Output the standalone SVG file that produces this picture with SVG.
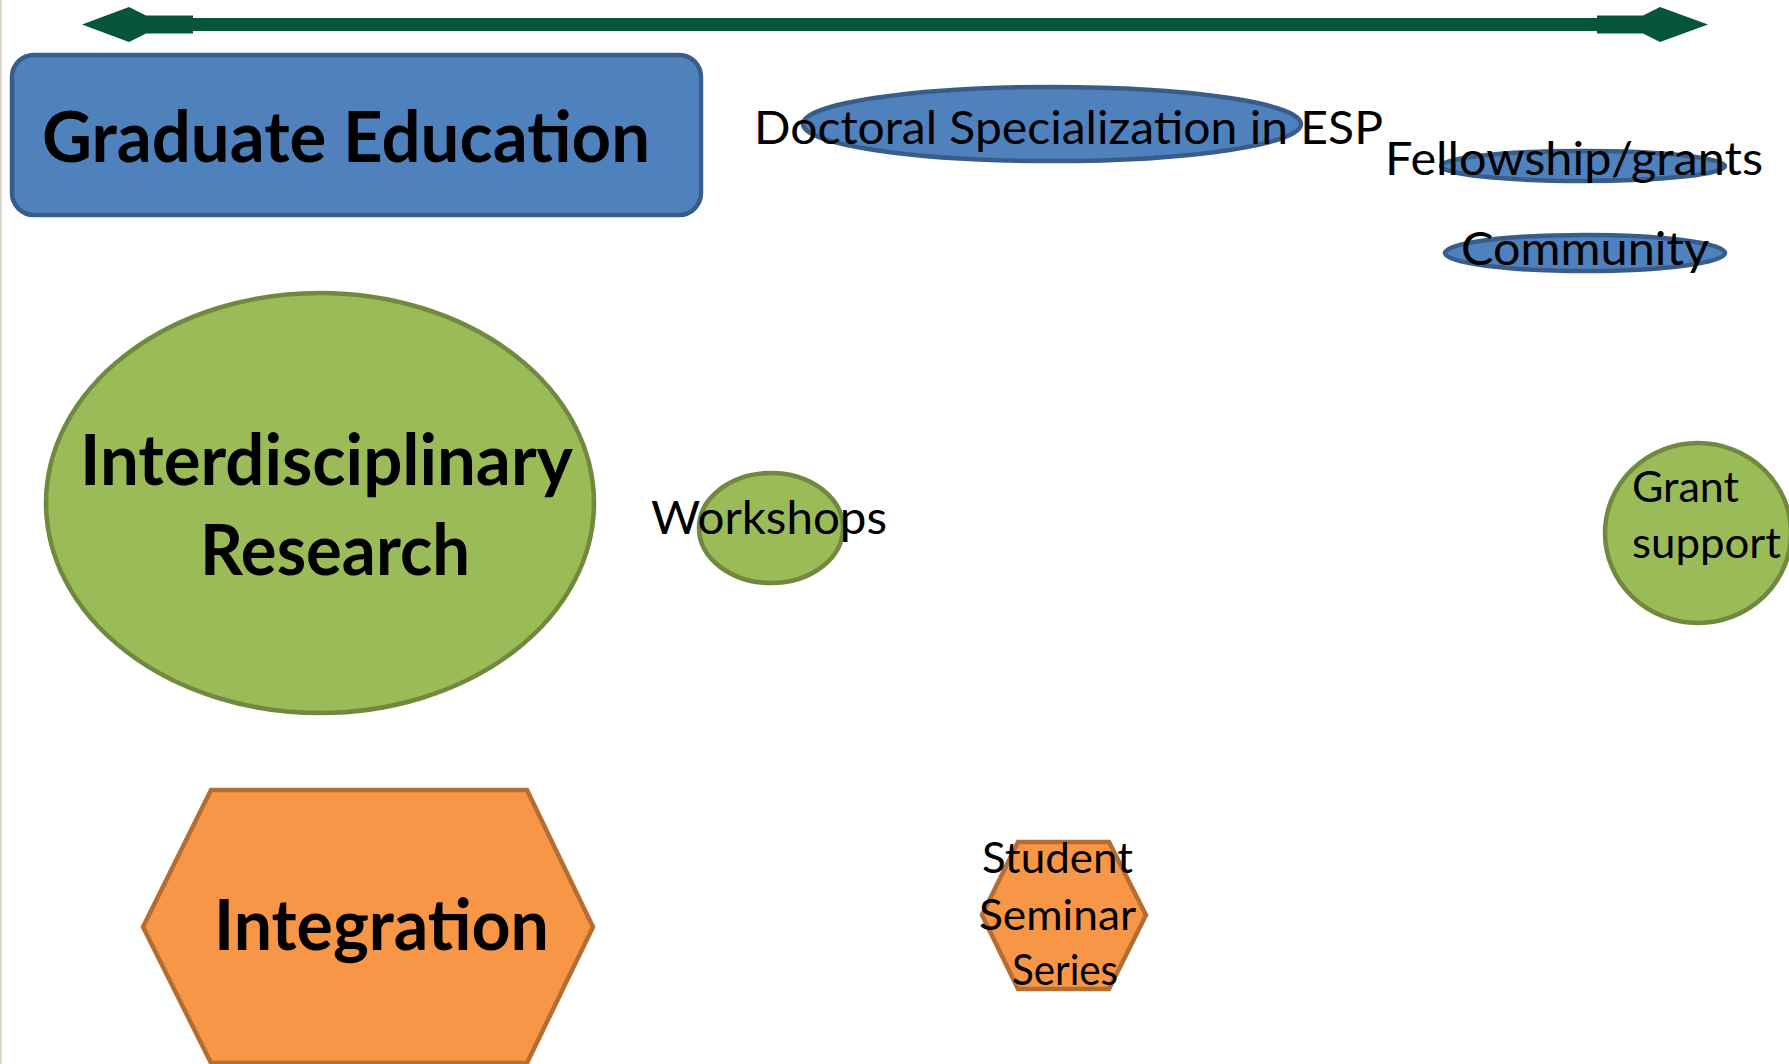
<svg xmlns="http://www.w3.org/2000/svg" width="1789" height="1064" viewBox="0 0 1789 1064">
<style>
.blue{fill:#4F81BD;stroke:#385D8A;stroke-width:4.5}
.green{fill:#9BBB59;stroke:#71893F;stroke-width:4.5}
.orange{fill:#F79646;stroke:#B66D31;stroke-width:4.5}
.big{font-family:Lato,"Open Sans","Liberation Sans",sans-serif;font-weight:bold;font-size:70px;fill:#000}
.small{font-family:Lato,"Open Sans","Liberation Sans",sans-serif;font-size:47px;fill:#000}
.tiny{font-family:Lato,"Open Sans","Liberation Sans",sans-serif;font-size:42px;fill:#000}
</style>
<rect x="0" y="0" width="1789" height="1064" fill="#fff"/>
<rect x="0" y="0" width="2" height="1064" fill="#E2D5C8"/>
<g id="connectors">
<path d="M82,24.5 L129,7 L146,15.5 L193,15.5 L193,18 L1597,18 L1597,15.5 L1643,15.5 L1660,7 L1708,24.5 L1660,42 L1643,33.5 L1597,33.5 L1597,31 L193,31 L193,33.5 L146,33.5 L129,42 Z" fill="#04553A"/>
</g>
<g id="graduate-education">
<rect class="blue" x="12" y="55" width="689" height="160" rx="22" ry="22"/>
<text class="big" x="42" y="162" textLength="608" lengthAdjust="spacingAndGlyphs">Graduate Education</text>
</g>
<g id="doctoral-specialization">
<ellipse class="blue" cx="1052" cy="124" rx="249" ry="37"/>
<text class="small" x="754" y="144" textLength="629" lengthAdjust="spacingAndGlyphs">Doctoral Specialization in ESP</text>
</g>
<g id="fellowship-grants">
<ellipse class="blue" cx="1583" cy="166" rx="142" ry="15"/>
<text class="small" x="1385" y="175" textLength="378" lengthAdjust="spacingAndGlyphs">Fellowship/grants</text>
</g>
<g id="community">
<ellipse class="blue" cx="1585" cy="253" rx="140" ry="18"/>
<text class="small" x="1461" y="265" textLength="248" lengthAdjust="spacingAndGlyphs">Community</text>
</g>
<g id="interdisciplinary-research">
<ellipse class="green" cx="320" cy="503" rx="274" ry="210"/>
<text class="big" x="80" y="485" textLength="493" lengthAdjust="spacingAndGlyphs">Interdisciplinary</text>
<text class="big" x="200" y="575" textLength="270" lengthAdjust="spacingAndGlyphs">Research</text>
</g>
<g id="workshops">
<ellipse class="green" cx="771" cy="528" rx="72" ry="55"/>
<text class="small" x="651" y="534" textLength="236" lengthAdjust="spacingAndGlyphs">Workshops</text>
</g>
<g id="grant-support">
<ellipse class="green" cx="1698" cy="533" rx="93" ry="90"/>
<text class="tiny" x="1632" y="502" textLength="107" lengthAdjust="spacingAndGlyphs">Grant</text>
<text class="tiny" x="1632" y="558" textLength="149" lengthAdjust="spacingAndGlyphs">support</text>
</g>
<g id="integration">
<polygon class="orange" points="211,790 527,790 593,927 527,1063 211,1063 143,927"/>
<text class="big" x="214" y="950" textLength="335" lengthAdjust="spacingAndGlyphs">Integration</text>
</g>
<g id="student-seminar-series">
<polygon class="orange" points="1018,842 1109,842 1146,915 1109,989 1018,989 982,915"/>
<text class="tiny" x="982" y="873" textLength="151" lengthAdjust="spacingAndGlyphs">Student</text>
<text class="tiny" x="979" y="930" textLength="157" lengthAdjust="spacingAndGlyphs">Seminar</text>
<text class="tiny" x="1012" y="985" textLength="106" lengthAdjust="spacingAndGlyphs">Series</text>
</g>
</svg>
